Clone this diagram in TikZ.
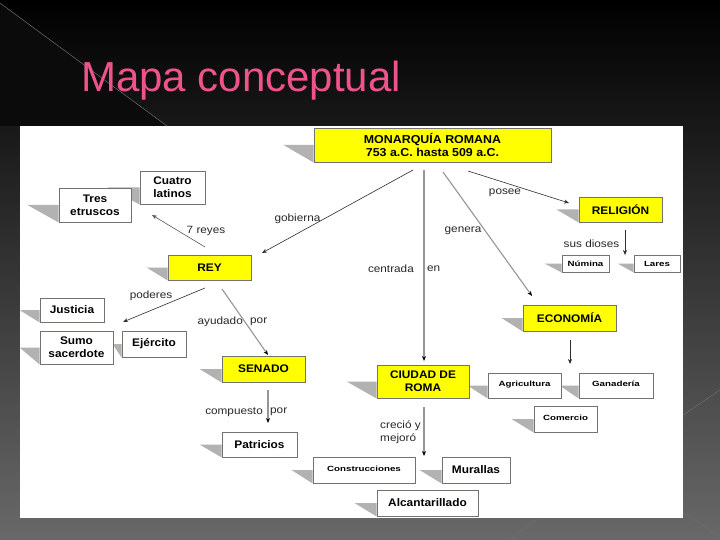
\documentclass[tikz,border=0pt]{standalone}
\usepackage{fontspec}
\setmainfont{Liberation Sans}
\newfontfamily\boxfont[FakeStretch=1.08]{Liberation Sans}
\newfontfamily\smallfont[FakeStretch=1.3]{Liberation Sans}
\newfontfamily\labfont[FakeStretch=1.12]{Liberation Sans}
\usetikzlibrary{arrows.meta,calc}
\pgfdeclarelayer{back}
\pgfdeclarelayer{shadowlayer}
\pgfsetlayers{back,shadowlayer,main}
\definecolor{titlepink}{RGB}{240,82,140}
\definecolor{boxyellow}{RGB}{255,255,0}
\definecolor{boxborder}{RGB}{115,115,110}
\definecolor{shadowc}{RGB}{178,178,178}
\definecolor{darkline}{RGB}{45,45,45}
\definecolor{grayline}{RGB}{150,150,150}
\definecolor{labtext}{RGB}{40,40,40}
\definecolor{bgmid}{RGB}{18,18,18}
\definecolor{bgbot}{RGB}{105,105,105}
\definecolor{bgtri}{RGB}{11,11,11}
\definecolor{decoc}{RGB}{110,110,110}
\tikzset{
  wbox/.style={draw=boxborder, line width=0.9pt, fill=white, align=center, inner sep=1pt,
    font=\boxfont\bfseries\fontsize{11}{13}\selectfont},
  ybox/.style={wbox, fill=boxyellow},
  sbox/.style={wbox, font=\smallfont\bfseries\fontsize{7.5}{9}\selectfont},
  lab/.style={inner sep=0pt, text=labtext, font=\labfont\fontsize{10.5}{12}\selectfont},
  dline/.style={draw=darkline, line width=0.6pt, -{Stealth[length=5pt,width=4pt]}},
  gline/.style={draw=grayline, line width=1.1pt, -{Stealth[length=5pt,width=4pt,color=black]}},
  tline/.style={draw=grayline, line width=2pt, -{Stealth[length=5pt,width=4pt,color=black]}},
  deco/.style={draw=decoc, line width=0.5pt}
}
\begin{document}
\begin{tikzpicture}[x=1pt,y=-1pt]
\useasboundingbox (0,0) rectangle (720,540);
\begin{pgfonlayer}{back}
  \shade[top color=black, middle color=bgmid, bottom color=bgbot] (0,0) rectangle (720,540);
  \fill[bgtri] (0,3) -- (167,126) -- (0,126) -- cycle;
  \draw[deco] (0,3) -- (167,126);
  \draw[deco] (509,540) -- (539,518);
  \draw[deco] (683,512) -- (720,537);
  \draw[deco] (683,415) -- (720,390);
  \fill[white] (20,126) rectangle (683,518);
\end{pgfonlayer}

\node[anchor=base west, inner sep=0pt, text=titlepink, font=\fontsize{42}{46}\selectfont] (title) at (81,92) {Mapa conceptual};

% boxes
\node[ybox, minimum width=237pt, minimum height=34pt] (mon) at (432.5,145) {\fontsize{11.5}{15}\selectfont MONARQUÍA ROMANA\\\fontsize{11.5}{15}\selectfont 753 a.C. hasta 509 a.C.};
\node[wbox, minimum width=65pt, minimum height=33pt] (cuatro) at (172.5,187.5) {Cuatro\\latinos};
\node[wbox, minimum width=72pt, minimum height=34pt] (tres) at (95,205) {Tres\\etruscos};
\node[ybox, minimum width=83pt, minimum height=25pt] (rey) at (209.5,267.5) {REY};
\node[wbox, minimum width=64pt, minimum height=24pt] (justicia) at (72,310) {Justicia};
\node[wbox, minimum width=73pt, minimum height=33pt] (sumo) at (76.5,347.5) {Sumo\\sacerdote};
\node[wbox, minimum width=64pt, minimum height=26pt] (ejercito) at (154,344) {Ejército};
\node[ybox, minimum width=83pt, minimum height=26pt] (senado) at (263.5,369) {SENADO};
\node[wbox, minimum width=75pt, minimum height=25pt] (patricios) at (259.5,444.5) {Patricios};
\node[ybox, minimum width=92pt, minimum height=33pt] (ciudad) at (423,381.5) {CIUDAD DE\\ROMA};
\node[sbox, minimum width=102pt, minimum height=26pt] (constr) at (364,470) {\raisebox{3pt}{Construcciones}};
\node[wbox, minimum width=68pt, minimum height=26pt] (murallas) at (476,470) {Murallas};
\node[wbox, minimum width=101pt, minimum height=26pt] (alcant) at (427.5,503) {Alcantarillado};
\node[ybox, minimum width=83pt, minimum height=25pt] (religion) at (620.5,209.5) {RELIGIÓN};
\node[sbox, minimum width=47pt, minimum height=17pt] (numina) at (585.5,263.5) {Númina};
\node[sbox, minimum width=46pt, minimum height=17pt] (lares) at (657,263.5) {Lares};
\node[ybox, minimum width=93pt, minimum height=26pt] (economia) at (569.5,318) {ECONOMÍA};
\node[sbox, minimum width=73pt, minimum height=25pt] (agric) at (524.5,385.5) {\raisebox{3pt}{Agricultura}};
\node[sbox, minimum width=74pt, minimum height=25pt] (ganad) at (616,385.5) {\raisebox{3pt}{Ganadería}};
\node[sbox, minimum width=63pt, minimum height=26pt] (comercio) at (565.5,419) {\raisebox{3pt}{Comercio}};

% shadows
\begin{pgfonlayer}{shadowlayer}
\foreach \n/\w in {mon/30, cuatro/32, tres/31, rey/21, justicia/20, sumo/20, ejercito/9, senado/22, patricios/22, ciudad/30, constr/21, murallas/22, alcant/22, religion/22, numina/17, lares/16, economia/21, agric/20, ganad/19, comercio/22}{
  \fill[shadowc] ($(\n.west)+(-\w,0)$) -- (\n.west) -- (\n.south west) -- cycle;
}
\end{pgfonlayer}

% connector end points
\coordinate (gobS) at (413,170);   \coordinate (gobE) at (262,253);
\coordinate (reyS) at (205,247);   \coordinate (reyE) at (152,215);
\coordinate (cenS) at (424,170);   \coordinate (cenE) at (424,361);
\coordinate (genS) at (443,172);   \coordinate (genE) at (532,296);
\coordinate (posS) at (468,171);   \coordinate (posE) at (569,203);
\coordinate (susS) at (625,230);   \coordinate (susE) at (625,255);
\coordinate (podS) at (205,288);   \coordinate (podE) at (123,322);
\coordinate (ayuS) at (222,289);   \coordinate (ayuE) at (268,355);
\coordinate (comS) at (268,390);   \coordinate (comE) at (268,423);
\coordinate (creS) at (424,407);   \coordinate (creE) at (424,456);
\coordinate (ecoS) at (570,340);   \coordinate (ecoE) at (570,364);

\draw[dline] (gobS) -- (gobE);
\draw[dline, draw=darkline!80] (reyS) -- (reyE);
\draw[tline] (cenS) -- (cenE);
\draw[gline] (genS) -- (genE);
\draw[dline] (posS) -- (posE);
\draw[dline] (susS) -- (susE);
\draw[dline] (podS) -- (podE);
\draw[gline] (ayuS) -- (ayuE);
\draw[tline] (comS) -- (comE);
\draw[tline] (creS) -- (creE);
\draw[dline] (ecoS) -- (ecoE);

% labels
\node[lab] (lgob) at (297.5,219) {gobierna};
\node[lab] (lrey) at (206,230.5) {7 reyes};
\node[lab, anchor=east] (lcen1) at (414,269) {centrada};
\node[lab, anchor=west] (lcen2) at (427,269) {en};
\node[lab] (lgen) at (463,231) {genera};
\node[lab] (lpos) at (505,193) {posee};
\node[lab] (lsus) at (591.5,244) {sus dioses};
\node[lab] (lpod) at (151,296) {poderes};
\node[lab, anchor=east] (layu1) at (243,322) {ayudado};
\node[lab, anchor=west] (layu2) at (250,322) {por};
\node[lab, anchor=east] (lcom1) at (263,412) {compuesto};
\node[lab, anchor=west] (lcom2) at (270,412) {por};
\node[lab, anchor=west] (lcre1) at (380,426) {creció y};
\node[lab, anchor=west] (lcre2) at (380,439) {mejoró};
\end{tikzpicture}
\end{document}
